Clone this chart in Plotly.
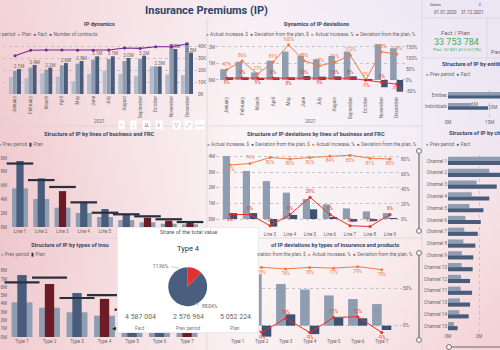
import base64, struct, zlib
import numpy as np
import plotly.graph_objects as go

W, H = 500, 350
def fx(x): return x / W
def fy(y): return 1 - y / H
def cat_range(d0, d1, c0, step): return [(d0 - c0) / step, (d1 - c0) / step]

# ---------------- data ----------------
months = ['January', 'February', 'March', 'April', 'May', 'June', 'July',
          'August', 'September', 'October', 'November', 'December']
p1_prev = [1.42, 1.30, 1.72, 1.44, 1.05, 1.67, 1.94, 1.67, 1.53, 2.30, 1.64, 1.58]
p1_plan = [1.92, 2.20, 2.03, 2.39, 2.53, 2.86, 2.92, 2.75, 2.94, 2.30, 4.17, 4.30]
p1_fact = [2.08, 2.42, 2.19, 2.58, 2.75, 3.14, 3.14, 3.00, 3.19, 2.30, 3.75, 3.45]
p1_contracts = [31.9, 36.4, 36.7, 36.7, 36.4, 36.4, 36.7, 38.3, 38.0, 39.4, 39.4, 41.7]

p2_actual = [0.65, 1.11, 0.46, 1.17, 1.72, 1.47, 1.25, 1.45, 1.72, 0.02, 2.16, 1.92]
p2_dev = [0.16, 0.16, 0.12, 0.16, 0.16, 0.24, 0.20, 0.22, 0.22, -0.02, -0.44, -0.71]
p2_actual_pct = [47, 86, 27, 81, 160, 88, 65, 81, 112, 0, 128, 118]
p2_dev_pct = [9, 9, 9, 9, 8, 10, 9, 10, 8, -1, -9, -19]

entities = ['Entities', 'Individuals']
p3_prev = [16.0, 5.6]
p3_fact = [19.5, 9.6]

lines = ['Line 1', 'Line 2', 'Line 3', 'Line 4', 'Line 5', 'Line 6', 'Line 7', 'Line 8', 'Line 9']
p4_fact = [9.57, 7.05, 5.20, 3.67, 2.60, 1.84, 1.35, 0.91, 0.68]
p4_prev = [5.60, 4.06, 2.80, 2.03, 1.45, 1.00, 0.68, 0.48, 0.39]
p4_plan = [9.20, 6.80, 5.80, 3.57, 2.07, 1.84, 1.55, 1.12, 0.72]

p5_actual = [4.04, 3.08, 2.43, 1.69, 1.28, 0.94, 0.68, 0.49, 0.38]
p5_dev = [0.38, 0.38, -0.49, 0.26, 0.62, 0.12, -0.17, -0.13, 0.04]
p5_actual_pct = [72, 74, 82, 80, 82, 84, 85, 81, 80]
p5_dev_pct = [6, 6, -9, 6, 29, 6, -9, -10, 6]

channels = ['Channel 1', 'Channel 2', 'Channel 3', 'Channel 4', 'Channel 5', 'Channel 6',
            'Channel 7', 'Channel 8', 'Channel 9', 'Channel 10', 'Channel 12', 'Channel 11',
            'Channel 13', 'Channel 14', 'Channel 15']
p6_prev = [3.70, 2.66, 1.85, 1.53, 1.38, 1.12, 1.05, 0.99, 0.90, 0.88, 0.84, 0.82, 0.77, 0.73, 0.39]
p6_fact = [4.80, 3.60, 3.14, 2.66, 2.28, 2.11, 1.92, 1.76, 1.63, 1.59, 1.42, 1.55, 1.42, 1.33, 0.62]

types = ['Type 1', 'Type 2', 'Type 3', 'Type 4', 'Type 5', 'Type 6', 'Type 7']
p7_fact = [7.47, 6.39, 5.30, 4.587, 3.60, 2.90, 2.20]
p7_prev = [4.18, 3.53, 2.98, 2.577, 2.00, 1.70, 1.30]
p7_plan = [6.59, 7.15, 4.70, 5.052, 3.30, 2.70, 2.60]

p8_actual = [3.29, 2.86, 2.32, 2.01, 1.68, 1.48, 1.20]
p8_dev = [0.88, -0.61, 0.63, -0.47, 0.46, 0.41, -0.24]
p8_actual_pct = [79, 78, 76, 78, 77, 79, 75]
p8_dev_pct = [13, -9, 10, -9, 11, 12, -9]

kpi_fact = 33753784
kpi_plan = 32801412
tip_type = 'Type 4'
tip_names = ['Fact', 'Prev period', 'Plan']
tip_values = [4587004, 2576964, 5052224]
pie_names = ['Type 4', 'Other types']
pie_shares = [11.96, 88.04]

# ---------------- style ----------------
FONT = 'Roboto'
C_PREV_L = '#b3bdca'
C_PLAN = '#8c9bb0'
C_FACT = '#485c7c'
C_RED_BAR = '#6d1b26'
C_ACT = '#8f9db1'
C_DEV = '#3e5173'
C_ORANGE = '#ef7b45'
C_RED = '#e5302c'
C_PURPLE = '#7b2396'
C_PLANMARK = '#27303f'
TITLE_C = '#33476b'
TXT = '#666666'
GRID = '#c4c4c4'
GREEN = '#45b04f'

def fmt_sp(n): return f"{n:,}".replace(',', '\u00a0')

# ---------------- background gradient image ----------------
bg_x = [0, 125, 250, 375, 500]
bg_y = [0, 117, 233, 350]
bg_hex = [
    ['#f4d5d9', '#f6e3e7', '#f8eff4', '#f1ebf6', '#ebe5f4'],
    ['#f1cdd1', '#f7e5e8', '#fbf5f7', '#f6f1f7', '#eee8f5'],
    ['#efc8cc', '#f6dfe2', '#fcf6f7', '#faf1f3', '#f6dfe2'],
    ['#f1ccd0', '#f7e1e4', '#fbf2f3', '#f8e6e8', '#f4d1d5'],
]
def hex2rgb(h): return [int(h[i:i + 2], 16) for i in (1, 3, 5)]
anch = np.array([[hex2rgb(c) for c in row] for row in bg_hex], dtype=float)
gw, gh = 125, 88
xs = np.linspace(0, 500, gw)
ys = np.linspace(0, 350, gh)
img = np.zeros((gh, gw, 3))
rows = np.zeros((len(bg_y), gw, 3))
for r in range(len(bg_y)):
    for ch in range(3):
        rows[r, :, ch] = np.interp(xs, bg_x, anch[r, :, ch])
for c in range(gw):
    for ch in range(3):
        img[:, c, ch] = np.interp(ys, bg_y, rows[:, c, ch])
img = np.clip(img, 0, 255).astype(np.uint8)

def png_uri(arr):
    h, w, _ = arr.shape
    raw = b''.join(b'\x00' + arr[i].tobytes() for i in range(h))
    def chunk(t, d):
        return struct.pack('>I', len(d)) + t + d + struct.pack('>I', zlib.crc32(t + d) & 0xffffffff)
    png = (b'\x89PNG\r\n\x1a\n' + chunk(b'IHDR', struct.pack('>IIBBBBB', w, h, 8, 2, 0, 0, 0))
           + chunk(b'IDAT', zlib.compress(raw)) + chunk(b'IEND', b''))
    return 'data:image/png;base64,' + base64.b64encode(png).decode()

fig = go.Figure()
TF = dict(size=4.6, family=FONT)

# ---------------- Panel 1: IP dynamics ----------------
fig.add_bar(x=months, y=p1_prev, marker_color=C_PREV_L, width=0.25, offset=-0.39, xaxis='x', yaxis='y')
fig.add_bar(x=months, y=p1_plan, marker_color=C_PLAN, width=0.25, offset=-0.13, xaxis='x', yaxis='y')
fig.add_bar(x=months, y=p1_fact, marker_color=C_FACT, width=0.25, offset=0.13, xaxis='x', yaxis='y',
            text=[f"{v:.1f}M" for v in p1_fact], textposition='outside', textangle=0,
            constraintext='none', cliponaxis=False, textfont=dict(size=4.6, color=TXT, family=FONT))
fig.add_scatter(x=months, y=p1_contracts, mode='lines+markers', xaxis='x', yaxis='y2',
                line=dict(color=C_PURPLE, width=1.1), marker=dict(size=3, color=C_PURPLE))

# ---------------- Panel 2: Dynamics of IP deviations ----------------
fig.add_bar(x=months, y=p2_actual, marker_color=C_ACT, width=0.42, offset=-0.42, xaxis='x2', yaxis='y3')
fig.add_bar(x=months, y=p2_dev, marker_color=C_DEV, width=0.42, offset=0.0, xaxis='x2', yaxis='y3')
fig.add_scatter(x=months, y=p2_actual_pct, mode='lines+markers+text', xaxis='x2', yaxis='y4',
                line=dict(color=C_ORANGE, width=1), marker=dict(size=3, color=C_ORANGE),
                text=[f"{v}%" for v in p2_actual_pct], textposition='top center', cliponaxis=False,
                textfont=dict(color=C_ORANGE, **TF))
p2_red_pos = ['bottom center', 'top center', 'bottom center', 'top center', 'bottom center', 'top center',
              'bottom center', 'top center', 'top center', 'bottom center', 'top center', 'bottom center']
fig.add_scatter(x=months, y=p2_dev_pct, mode='lines+markers+text', xaxis='x2', yaxis='y4',
                line=dict(color=C_RED, width=1), marker=dict(size=3, color=C_RED),
                text=[f"{v}%" for v in p2_dev_pct], textposition=p2_red_pos, cliponaxis=False,
                textfont=dict(color=C_RED, **TF))

# ---------------- Panel 3b: entities ----------------
fig.add_bar(y=entities, x=p3_prev, orientation='h', marker_color=C_ACT, width=0.3, offset=-0.3,
            xaxis='x3', yaxis='y5', text=[f"{v:.0f}M" for v in p3_prev], textposition='outside',
            constraintext='none', cliponaxis=False, textfont=dict(color=TXT, **TF))
fig.add_bar(y=entities, x=p3_fact, orientation='h', marker_color=C_FACT, width=0.3, offset=0.0,
            xaxis='x3', yaxis='y5', text=[f"{v:.0f}M" for v in p3_fact], textposition='outside',
            constraintext='none', cliponaxis=False, textfont=dict(color=TXT, **TF))

# ---------------- Panel 4: lines of business ----------------
fig.add_bar(x=lines, y=p4_prev, marker_color=C_ACT, width=0.75, offset=-0.375, xaxis='x4', yaxis='y6')
fig.add_bar(x=lines, y=p4_fact, width=0.34, offset=-0.17, xaxis='x4', yaxis='y6',
            marker_color=[C_FACT if f >= p else C_RED_BAR for f, p in zip(p4_fact, p4_plan)])
fig.add_scatter(x=lines, y=p4_plan, mode='markers', xaxis='x4', yaxis='y6', cliponaxis=False,
                marker=dict(symbol='line-ew', size=19, line=dict(width=2.2, color=C_PLANMARK)))

# ---------------- Panel 5: deviations by lines ----------------
fig.add_bar(x=lines, y=p5_actual, marker_color=C_ACT, width=0.36, offset=-0.36, xaxis='x5', yaxis='y7')
fig.add_bar(x=lines, y=p5_dev, marker_color=C_DEV, width=0.36, offset=0.0, xaxis='x5', yaxis='y7')
fig.add_scatter(x=lines, y=p5_actual_pct, mode='lines+markers+text', xaxis='x5', yaxis='y8',
                line=dict(color=C_ORANGE, width=1), marker=dict(size=3, color=C_ORANGE),
                text=[f"{v}%" for v in p5_actual_pct],
                textposition=['bottom center', 'top center'] + ['bottom center'] * 7,
                cliponaxis=False, textfont=dict(color=C_ORANGE, **TF))
fig.add_scatter(x=lines, y=p5_dev_pct, mode='lines+markers+text', xaxis='x5', yaxis='y8',
                line=dict(color=C_RED, width=1), marker=dict(size=3, color=C_RED),
                text=[f"{v}%" for v in p5_dev_pct],
                textposition=['bottom center'] + ['top center'] * 8,
                cliponaxis=False, textfont=dict(color=C_RED, **TF))

# ---------------- Panel 6: channels ----------------
fig.add_bar(y=channels, x=p6_prev, orientation='h', marker_color=C_ACT, width=0.35, offset=-0.35,
            xaxis='x6', yaxis='y9')
fig.add_bar(y=channels, x=p6_fact, orientation='h', marker_color=C_FACT, width=0.35, offset=0.0,
            xaxis='x6', yaxis='y9')

# ---------------- Panel 7: types ----------------
fig.add_bar(x=types, y=p7_prev, marker_color=C_ACT, width=0.76, offset=-0.38, xaxis='x7', yaxis='y10')
fig.add_bar(x=types, y=p7_fact, width=0.34, offset=-0.17, xaxis='x7', yaxis='y10',
            marker_color=[C_FACT if f >= p else C_RED_BAR for f, p in zip(p7_fact, p7_plan)])
fig.add_scatter(x=types, y=p7_plan, mode='markers', xaxis='x7', yaxis='y10', cliponaxis=False,
                marker=dict(symbol='line-ew', size=25, line=dict(width=2.2, color=C_PLANMARK)))

# ---------------- Panel 8: deviations by types ----------------
fig.add_bar(x=types, y=p8_actual, marker_color=C_ACT, width=0.4, offset=-0.4, xaxis='x8', yaxis='y11')
fig.add_bar(x=types, y=p8_dev, marker_color=C_DEV, width=0.4, offset=0.0, xaxis='x8', yaxis='y11')
fig.add_scatter(x=types, y=p8_actual_pct, mode='lines+markers+text', xaxis='x8', yaxis='y12',
                line=dict(color=C_ORANGE, width=1), marker=dict(size=3, color=C_ORANGE),
                text=[f"{v}%" for v in p8_actual_pct], textposition='bottom center',
                cliponaxis=False, textfont=dict(color=C_ORANGE, **TF))
fig.add_scatter(x=types, y=p8_dev_pct, mode='lines+markers+text', xaxis='x8', yaxis='y12',
                line=dict(color=C_RED, width=1), marker=dict(size=3, color=C_RED),
                text=[f"{v}%" for v in p8_dev_pct],
                textposition=['top center' if v >= 0 else 'bottom center' for v in p8_dev_pct],
                cliponaxis=False, textfont=dict(color=C_RED, **TF))

# ---------------- Tooltip card (drawn last among cartesian subplots) ----------------
fig.add_scatter(x=[0, 1, 1, 0, 0], y=[0, 0, 1, 1, 0], mode='lines', fill='toself', fillcolor='white',
                line=dict(color='#cfcfcf', width=0.8), xaxis='x9', yaxis='y13', cliponaxis=False,
                hoverinfo='skip')
fig.add_pie(values=pie_shares, labels=pie_names, marker=dict(colors=[C_RED, '#4b5e7f']),
            direction='counterclockwise', rotation=0, sort=False, textinfo='none', hoverinfo='skip',
            domain=dict(x=[fx(168.2), fx(207.2)], y=[fy(306.2), fy(267.2)]))

# ---------------- axes ----------------
AX = dict(showgrid=False, zeroline=False, showline=False, ticks='', fixedrange=True, automargin=False,
          tickfont=dict(size=4.6, color=TXT, family=FONT))
GRIDAX = dict(showgrid=True, gridcolor=GRID, griddash='dot', gridwidth=0.6)
HID = dict(visible=False, fixedrange=True, automargin=False)

fig.update_layout(
    xaxis=dict(AX, domain=[fx(3), fx(197)], range=cat_range(3, 197, 15, 15.64), anchor='y', tickangle=-90),
    yaxis=dict(AX, **GRIDAX, domain=[fy(94), fy(40)], range=[0, 4.5], anchor='x',
               tickvals=[0, 1, 2, 3, 4], showticklabels=False),
    yaxis2=dict(AX, overlaying='y', side='right', anchor='x', range=[0, 45],
                tickvals=[0, 10, 20, 30, 40], ticktext=['0K', '10K', '20K', '30K', '40K']),
    xaxis2=dict(AX, domain=[fx(216), fx(405)], range=cat_range(216, 405, 226.7, 15.45), anchor='y3',
                tickangle=-90),
    yaxis3=dict(AX, **GRIDAX, domain=[fy(95), fy(40)], range=[-0.91, 2.42], anchor='x2',
                tickvals=[0, 1, 2], ticktext=['0M', '1M', '2M']),
    yaxis4=dict(AX, overlaying='y3', side='right', anchor='x2', range=[-68.2, 181.8],
                tickvals=[-50, 0, 50, 100, 150], ticktext=['-50%', '0%', '50%', '100%', '150%']),
    xaxis3=dict(AX, **GRIDAX, domain=[fx(448), 1], range=[0, 12.47], anchor='y5',
                tickvals=[0, 10], ticktext=['0M', '10M']),
    yaxis5=dict(AX, domain=[fy(118), fy(89.8)], range=[2.06, -0.5], anchor='x3', type='category'),
    xaxis4=dict(AX, domain=[fx(8), fx(201)], range=cat_range(8, 201, 20, 21.25), anchor='y6'),
    yaxis6=dict(AX, domain=[fy(227), fy(150)], range=[0, 11.16], anchor='x4',
                tickvals=[0, 2, 4, 6, 8, 10], ticktext=['0M', '2M', '4M', '6M', '8M', '10M']),
    xaxis5=dict(AX, domain=[fx(216), fx(400)], range=cat_range(216, 400, 230, 20), anchor='y7'),
    yaxis7=dict(AX, **GRIDAX, domain=[fy(230), fy(150)], range=[-0.705, 4.423], anchor='x5',
                tickvals=[0, 1, 2, 3, 4], ticktext=['0M', '1M', '2M', '3M', '4M']),
    yaxis8=dict(AX, overlaying='y7', side='right', anchor='x5', range=[-14.67, 92],
                tickvals=[0, 20, 40, 60, 80], ticktext=['0%', '20%', '40%', '60%', '80%']),
    xaxis6=dict(AX, **GRIDAX, domain=[fx(448), 1], range=[0, 3.35], anchor='y9',
                tickvals=[0, 2], ticktext=['0M', '2M']),
    yaxis9=dict(AX, domain=[fy(332), fy(155.1)], range=[14.5, -0.5], anchor='x6', type='category'),
    xaxis7=dict(AX, domain=[fx(8), fx(201)], range=cat_range(8, 201, 22, 27.5), anchor='y10'),
    yaxis10=dict(AX, domain=[fy(337), fy(262)], range=[0, 9.04], anchor='x7',
                 tickvals=list(range(9)), ticktext=[f"{i}M" for i in range(9)]),
    xaxis8=dict(AX, domain=[fx(226), fx(402)], range=cat_range(226, 402, 237.7, 24), anchor='y11'),
    yaxis11=dict(AX, domain=[fy(337), fy(262)], range=[-0.63, 3.54], anchor='x8',
                 tickvals=[0, 1, 2, 3], ticktext=['0M', '1M', '2M', '3M']),
    yaxis12=dict(AX, **GRIDAX, overlaying='y11', side='right', anchor='x8', range=[-15.1, 85.2],
                 tickvals=[0, 50], ticktext=['0%', '50%']),
    xaxis9=dict(HID, domain=[fx(117), fx(259)], range=[0, 1], anchor='y13'),
    yaxis13=dict(HID, domain=[fy(333), fy(227)], range=[0, 1], anchor='x9'),
)

# ---------------- annotations ----------------
def ann(x, y, text, size=4.8, color=TXT, xanchor='center', yanchor='middle', **kw):
    return dict(x=fx(x), y=fy(y), xref='paper', yref='paper', text=text, showarrow=False,
                font=dict(size=size, color=color, family=FONT), xanchor=xanchor, yanchor=yanchor, **kw)

def legend(items):
    return '\u00a0\u00a0'.join(f"<span style='color:{c}'>{s}</span>\u00a0{n}" for n, c, s in items)

DOT = '\u25cf'
BAR = '\u25ae'
TS = 5.6
annotations = [
    ann(206, 10, '<b>Insurance Premiums (IP)</b>', size=11, color='#2b4468'),
    ann(99, 24, '<b>IP dynamics</b>', size=TS, color=TITLE_C),
    ann(316, 24, '<b>Dynamics of IP deviations</b>', size=TS, color=TITLE_C),
    ann(440, 64, '<b>Structure of IP by entities</b>', size=TS, color=TITLE_C, xanchor='left'),
    ann(99, 134, '<b>Structure of IP by lines of business and FRC</b>', size=TS, color=TITLE_C),
    ann(316, 133.5, '<b>Structure of IP deviations by lines of business and FRC</b>', size=TS, color=TITLE_C),
    ann(447, 133, '<b>Structure of IP by channels</b>', size=TS, color=TITLE_C, xanchor='left'),
    ann(29, 244.5, '<b>Structure of IP by types of insu</b>', size=TS, color=TITLE_C, xanchor='left'),
    ann(402, 245, '<b>of IP deviations by types of insurance and products</b>', size=TS, color=TITLE_C,
        xanchor='right'),
    ann(100, 34, legend([('Prev period', C_PREV_L, DOT), ('Plan', C_PLAN, DOT), ('Fact', C_FACT, DOT),
                         ('Number of contracts', C_PURPLE, DOT)]), xanchor='right'),
    ann(311, 34, legend([('Actual increase, $', C_ACT, DOT), ('Deviation from the plan, $', C_DEV, DOT),
                         ('Actual increase, %', C_ORANGE, DOT), ('Deviation from the plan, %', C_RED, DOT)])),
    ann(424, 74, legend([('Prev period', C_ACT, DOT), ('Fact', C_FACT, DOT)]), xanchor='left'),
    ann(45, 144, legend([('Fact', C_FACT, DOT), ('Prev period', C_ACT, DOT), ('Plan', C_PLANMARK, BAR)]),
        xanchor='right'),
    ann(312, 144, legend([('Actual increase, $', C_ACT, DOT), ('Deviation from the plan, $', C_DEV, DOT),
                          ('Actual increase, %', C_ORANGE, DOT), ('Deviation from the plan, %', C_RED, DOT)])),
    ann(424, 144, legend([('Prev period', C_ACT, DOT), ('Fact', C_FACT, DOT)]), xanchor='left'),
    ann(47, 254, legend([('Fact', C_FACT, DOT), ('Prev period', C_ACT, DOT), ('Plan', C_PLANMARK, BAR)]),
        xanchor='right'),
    ann(415, 254, 'viation from the plan, $\u00a0\u00a0' +
        legend([('Actual increase, %', C_ORANGE, DOT), ('Deviation from the plan, %', C_RED, DOT)]),
        xanchor='right'),
    ann(99, 122, '2021'),
    ann(310, 122, '2021'),
    # date slicer and KPI card
    ann(428, 4.5, 'Dates', size=4.3, color='#555', xanchor='left'),
    ann(480, 4.5, '\u2228', size=4.5, color='#777'),
    ann(432, 12.8, '01.01.2020', size=4.5, color='#555', xanchor='left'),
    ann(459, 12.8, '31.12.2021', size=4.5, color='#555', xanchor='left'),
    ann(455, 32.5, 'Fact / Plan', size=6, color='#666'),
    ann(456.5, 42.3, fmt_sp(kpi_fact), size=9, color=GREEN),
    ann(457, 50, f"Plan: {fmt_sp(kpi_plan)} ({((kpi_fact / kpi_plan - 1) * 100):+.1f}%)".replace('.', ','),
        size=4.4, color=GREEN),
    ann(489, 51.7, 'Prev period', size=5, color='#666', xanchor='left'),
    # tooltip
    ann(188.3, 232.3, 'Share of the total value', size=5.6, color='#555'),
    ann(188, 248.3, tip_type, size=7.5, color='#333'),
    ann(171, 266.7, f"{pie_shares[0]:.2f}%".replace('.', ','), size=4.8, color='#666', xanchor='right'),
    ann(199.5, 306, f"{pie_shares[1]:.2f}%".replace('.', ','), size=4.8, color='#666', xanchor='left'),
    ann(113.5, 328, '\u25c0', size=5, color='#222'),
]
for cx, val, name in zip([140, 188, 235], tip_values, tip_names):
    annotations.append(ann(cx, 317.3, fmt_sp(val), size=7, color='#666'))
    annotations.append(ann(cx, 328.5, name, size=4.8, color='#777'))
for cx, ch in zip([121.7, 133.3, 146, 159.3, 176.7, 188.3, 200],
                  ['\u2191', '\u2193', '\u21ca', '\u2144', '\u25bd', '\u2922', '\u22ef']):
    annotations.append(ann(cx, 125, ch, size=5.5, color='#888', bgcolor='white', borderpad=1))

# ---------------- decoration shapes ----------------
shapes = []
SEP = 'rgba(215,210,222,0.9)'
def seg(x0, y0, x1, y1, color=SEP, width=0.8):
    shapes.append(dict(type='line', xref='paper', yref='paper', x0=fx(x0), y0=fy(y0), x1=fx(x1), y1=fy(y1),
                       line=dict(color=color, width=width)))
def circ(x, y, r=2.4):
    shapes.append(dict(type='circle', xref='paper', yref='paper', x0=fx(x - r), x1=fx(x + r),
                       y0=fy(y + r), y1=fy(y - r), fillcolor='white', line=dict(color='#6b6b6b', width=1)))
seg(207, 18, 207, 227); seg(207, 333, 207, 350)
seg(0, 126, 422, 126)
seg(0, 238, 117, 238); seg(259, 238, 422, 238)
seg(422, 0, 422, 350)
seg(422, 18, 500, 18); seg(422, 58, 500, 58); seg(487, 18, 487, 58)
seg(171.5, 266.7, 179, 268, color='#aaaaaa', width=0.6)
seg(195, 303, 199, 305.5, color='#aaaaaa', width=0.6)
seg(419, 151, 419, 231, color='#6b6b6b', width=1.2); circ(419, 151); circ(419, 231)
seg(419, 253, 419, 340, color='#6b6b6b', width=1.2); circ(419, 253); circ(419, 340)
seg(449, 347, 500, 347, color='#6b6b6b', width=1.2); circ(449, 347)

fig.update_layout(
    width=W, height=H, margin=dict(l=0, r=0, t=0, b=0, pad=0), template='none',
    paper_bgcolor='white', plot_bgcolor='rgba(0,0,0,0)', barmode='overlay', showlegend=False,
    font=dict(family=FONT, size=5, color=TXT), annotations=annotations, shapes=shapes,
    images=[dict(source=png_uri(img), xref='paper', yref='paper', x=0, y=1, sizex=1, sizey=1,
                 sizing='stretch', xanchor='left', yanchor='top', layer='below')],
)

fig.write_html("out.html", config={'displayModeBar': False})
